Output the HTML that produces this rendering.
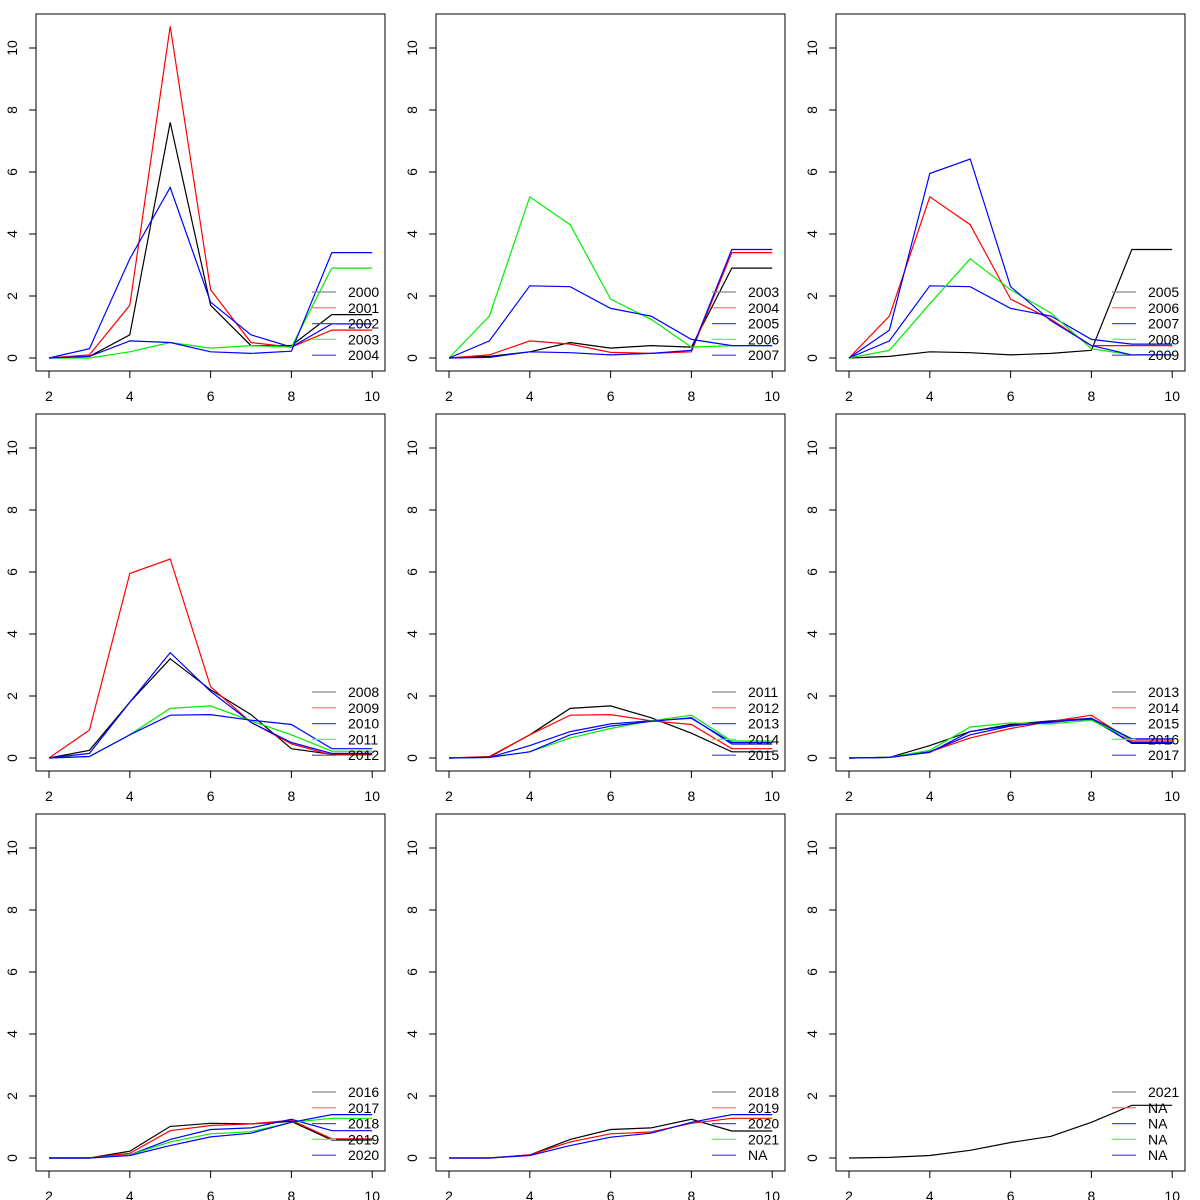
<!DOCTYPE html>
<html><head><meta charset="utf-8"><style>
html,body{margin:0;padding:0;background:#fff;}
svg{display:block;font-family:"Liberation Sans","DejaVu Sans",sans-serif;}
</style></head><body>
<svg id="chart" width="1200" height="1200" viewBox="0 0 1200 1200"></svg>
<script>
const xValues = [2,3,4,5,6,7,8,9,10];
const xTicks = [2,4,6,8,10];
const yTicks = [0,2,4,6,8,10];
const seriesColors = ["#000000","#ff0000","#0000ff","#00ee00","#0000ff"];
const legendColors = ["#888888","#ff6666","#4444ff","#55ff55","#4444cc"];
const panelLabels = [
 ["2000","2001","2002","2003","2004"],
 ["2003","2004","2005","2006","2007"],
 ["2005","2006","2007","2008","2009"],
 ["2008","2009","2010","2011","2012"],
 ["2011","2012","2013","2014","2015"],
 ["2013","2014","2015","2016","2017"],
 ["2016","2017","2018","2019","2020"],
 ["2018","2019","2020","2021","NA"],
 ["2021","NA","NA","NA","NA"]
];
const panel1 = [
 [0,0.05,0.75,7.6,1.7,0.4,0.4,1.4,1.4],
 [0,0.1,1.7,10.7,2.2,0.5,0.35,0.9,0.9],
 [0,0.3,3.2,5.5,1.8,0.75,0.35,1.1,1.1],
 [0,0,0.2,0.5,0.32,0.4,0.35,2.9,2.9],
 [0,0.05,0.55,0.5,0.2,0.15,0.22,3.4,3.4]];
const panel2 = [
 [0,0.05,0.2,0.5,0.32,0.4,0.35,2.9,2.9],
 [0,0.1,0.55,0.45,0.18,0.15,0.2,3.4,3.4],
 [0,0.02,0.2,0.17,0.1,0.15,0.25,3.5,3.5],
 [0,1.35,5.2,4.3,1.9,1.25,0.35,0.4,0.4],
 [0,0.55,2.33,2.3,1.6,1.35,0.6,0.4,0.4]];
const panel3 = [
 [0,0.05,0.2,0.17,0.1,0.15,0.25,3.5,3.5],
 [0,1.35,5.2,4.3,1.9,1.25,0.4,0.4,0.4],
 [0,0.55,2.33,2.3,1.6,1.35,0.6,0.45,0.45],
 [0,0.25,1.75,3.2,2.2,1.45,0.3,0.1,0.1],
 [0,0.9,5.95,6.42,2.3,1.2,0.4,0.1,0.1]];
const panel4 = [
 [0,0.25,1.8,3.2,2.2,1.4,0.3,0.12,0.12],
 [0,0.9,5.95,6.42,2.3,1.15,0.45,0.1,0.1],
 [0,0.15,1.8,3.4,2.15,1.15,0.5,0.15,0.15],
 [0,0.05,0.75,1.6,1.68,1.2,0.75,0.22,0.22],
 [0,0.05,0.75,1.38,1.4,1.22,1.08,0.3,0.3]];
const panel5 = [
 [0,0.03,0.75,1.6,1.68,1.3,0.8,0.2,0.2],
 [0,0.05,0.75,1.38,1.4,1.2,1.08,0.3,0.3],
 [0,0.02,0.4,0.85,1.1,1.2,1.28,0.5,0.5],
 [0,0.02,0.2,0.65,0.95,1.2,1.38,0.55,0.55],
 [0,0.02,0.2,0.75,1.03,1.18,1.3,0.45,0.45]];
const panel6 = [
 [0,0.02,0.4,0.85,1.08,1.2,1.28,0.47,0.47],
 [0,0.02,0.2,0.65,0.95,1.18,1.38,0.55,0.55],
 [0,0.02,0.2,0.75,1.03,1.18,1.25,0.5,0.5],
 [0,0.02,0.25,1.0,1.13,1.1,1.22,0.6,0.6],
 [0,0.02,0.18,0.85,1.05,1.15,1.28,0.62,0.62]];
const panel7 = [
 [0,0,0.22,1.02,1.12,1.1,1.18,0.58,0.58],
 [0,0,0.15,0.88,1.05,1.1,1.22,0.62,0.62],
 [0,0,0.1,0.6,0.92,0.97,1.25,0.88,0.88],
 [0,0,0.1,0.52,0.78,0.85,1.15,1.28,1.28],
 [0,0,0.08,0.4,0.68,0.8,1.15,1.4,1.4]];
const panel8 = [
 [0,0,0.1,0.6,0.92,0.97,1.25,0.87,0.87],
 [0,0,0.1,0.52,0.78,0.84,1.12,1.28,1.28],
 [0,0,0.08,0.4,0.67,0.8,1.15,1.4,1.4]];
const panel9 = [
 [0,0.02,0.08,0.25,0.5,0.7,1.15,1.7,1.7]];
const panels = [panel1,panel2,panel3,panel4,panel5,panel6,panel7,panel8,panel9];

const NS = "http://www.w3.org/2000/svg";
const svg = document.getElementById("chart");
function mk(tag, attrs, parent){
  const e = document.createElementNS(NS, tag);
  for (const k in attrs) e.setAttribute(k, attrs[k]);
  parent.appendChild(e);
  return e;
}
panels.forEach((series, i) => {
  const px = (i % 3) * 400, py = Math.floor(i / 3) * 400;
  const xs = v => px + 49 + (v - 2) * 40.4;
  const ys = v => py + 358 - v * 31;
  const g = mk("g", {}, svg);
  
  
  const box = mk("rect", {x: px + 36, y: py + 14, width: 349, height: 357, fill: "none", stroke: "#000", "stroke-width": 1}, g);
  
  
  // x axis
  const xa = mk("g", {}, g);
  
  
  mk("line", {x1: xs(2), x2: xs(10), y1: py + 371, y2: py + 371, stroke: "#000"}, xa);
  xTicks.forEach(t => {
    mk("line", {x1: xs(t), x2: xs(t), y1: py + 371, y2: py + 378, stroke: "#000"}, xa);
    const tx = mk("text", {x: xs(t), y: py + 401, "font-size": 14, "text-anchor": "middle"}, xa);
    tx.textContent = t;
    
    
  });
  // y axis
  const ya = mk("g", {}, g);
  
  
  mk("line", {x1: px + 36, x2: px + 36, y1: ys(0), y2: ys(10), stroke: "#000"}, ya);
  yTicks.forEach(t => {
    mk("line", {x1: px + 29, x2: px + 36, y1: ys(t), y2: ys(t), stroke: "#000"}, ya);
    const tx = mk("text", {x: px + 17, y: ys(t), "font-size": 14, "text-anchor": "middle", transform: `rotate(-90 ${px + 17} ${ys(t)})`}, ya);
    tx.textContent = t;
    
    
  });
  // series
  series.forEach((vals, s) => {
    const pts = vals.map((v, k) => xs(xValues[k]).toFixed(1) + "," + ys(v).toFixed(1)).join(" ");
    const pl = mk("polyline", {points: pts, fill: "none", stroke: seriesColors[s], "stroke-width": 1.2}, g);
    
    
  });
  // legend
  const lg = mk("g", {}, g);
  
  
  panelLabels[i].forEach((lab, s) => {
    const ly = py + 292 + s * 15.8;
    mk("line", {x1: px + 312, x2: px + 336, y1: ly, y2: ly, stroke: legendColors[s], "stroke-width": 1.2}, lg);
    const tx = mk("text", {x: px + 348, y: ly + 5, "font-size": 14}, lg);
    tx.textContent = lab;
    
    
  });
});
</script>
</body></html>
